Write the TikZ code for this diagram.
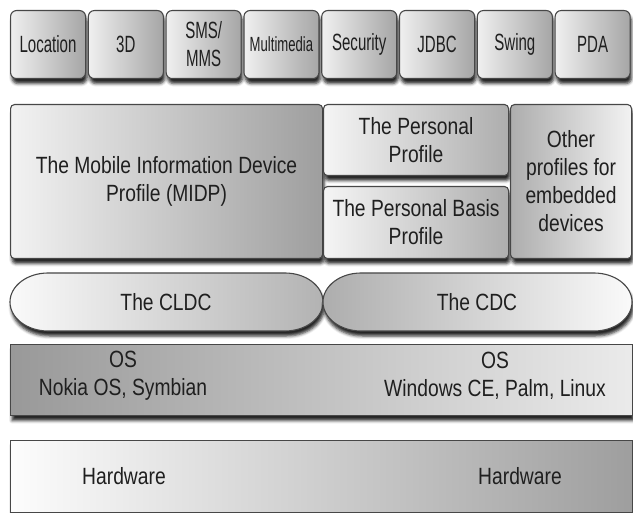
\documentclass[tikz,border=0pt]{standalone}
\usepackage{fontspec}
\setmainfont{Liberation Sans}
\newfontfamily\wideface{Liberation Sans}[FakeStretch=0.82]
\newfontfamily\narrowface{Liberation Sans}[FakeStretch=0.64]
\usetikzlibrary{shadows.blur}

\tikzset{
  softshadow/.style={blur shadow={shadow xshift=1.5pt, shadow yshift=-5pt,
      shadow blur radius=3pt, shadow opacity=85}},
  box/.style={draw=black!72, line width=1.1pt, inner sep=0pt, anchor=north west,
      rectangle, softshadow, text=black!88},
  tile/.style={box, rounded corners=6pt, minimum width=75pt, minimum height=68pt,
      left color=black!6, right color=black!35,
      font=\narrowface\fontsize{23.5}{28}\selectfont, align=center},
  panel/.style={box, rounded corners=4pt,
      font=\wideface\fontsize{23.5}{28}\selectfont, align=center},
  layer/.style={box, minimum width=622pt, minimum height=71pt},
  txt/.style={font=\wideface\fontsize{23.5}{28}\selectfont, align=center, text=black!88},
  stadium/.style={draw=black!72, line width=1.1pt, softshadow}
}

\begin{document}
\begin{tikzpicture}[x=1pt, y=-1pt]
  \useasboundingbox (0,0) rectangle (633,513);

  % optional packages
  \node[tile] (loc)  at (10.0,10)  {Location};
  \node[tile] (d3)   at (87.8,10)  {3D};
  \node[tile] (sms)  at (165.6,10) {SMS/\\MMS};
  \node[tile, font=\narrowface\fontsize{20.5}{24}\selectfont] (mm) at (243.4,10) {Multimedia};
  \node[tile] (sec)  at (321.2,10) {Security};
  \node[tile] (jdbc) at (399.0,10) {JDBC};
  \node[tile] (swg)  at (476.8,10) {Swing};
  \node[tile] (pda)  at (554.6,10) {PDA};

  % profiles
  \node[panel, minimum width=312pt, minimum height=154pt,
        left color=black!5, right color=black!38] (midp) at (10,104)
        {The Mobile Information Device\\Profile (MIDP)};
  \node[panel, minimum width=185pt, minimum height=71pt,
        left color=black!4, right color=black!32] (pp) at (323,104)
        {The Personal\\Profile};
  \node[panel, minimum width=185pt, minimum height=72pt,
        left color=black!4, right color=black!32] (pbp) at (323,186)
        {The Personal Basis\\Profile};
  \node[panel, minimum width=121pt, minimum height=154pt,
        left color=black!32, right color=black!5] (other) at (510,104)
        {Other\\profiles for\\embedded\\devices};

  % configurations
  \draw[stadium, left color=black!2, right color=black!30]
    (48,273) -- (285,273) arc[start angle=-90, end angle=90, x radius=38, y radius=29]
    -- (48,331) arc[start angle=90, end angle=270, x radius=38, y radius=29] -- cycle;
  \node[txt] (cldc) at (166,302) {The CLDC};
  \draw[stadium, left color=black!32, right color=black!2]
    (361,273) -- (594,273) arc[start angle=-90, end angle=90, x radius=38, y radius=29]
    -- (361,331) arc[start angle=90, end angle=270, x radius=38, y radius=29] -- cycle;
  \node[txt] (cdc) at (477,302) {The CDC};

  % operating systems
  \node[layer, left color=black!40, right color=black!8] (os) at (10,344) {};
  \node[txt] (os1) at (123,376) {OS\\Nokia OS, Symbian};
  \node[txt] (os2) at (495,376) {OS\\Windows CE, Palm, Linux};

  % hardware
  \node[layer, minimum height=72pt, left color=black!1, right color=black!38] (hw) at (10,440) {};
  \node[txt] (hw1) at (124,476) {Hardware};
  \node[txt] (hw2) at (520,476) {Hardware};
\end{tikzpicture}
\end{document}
